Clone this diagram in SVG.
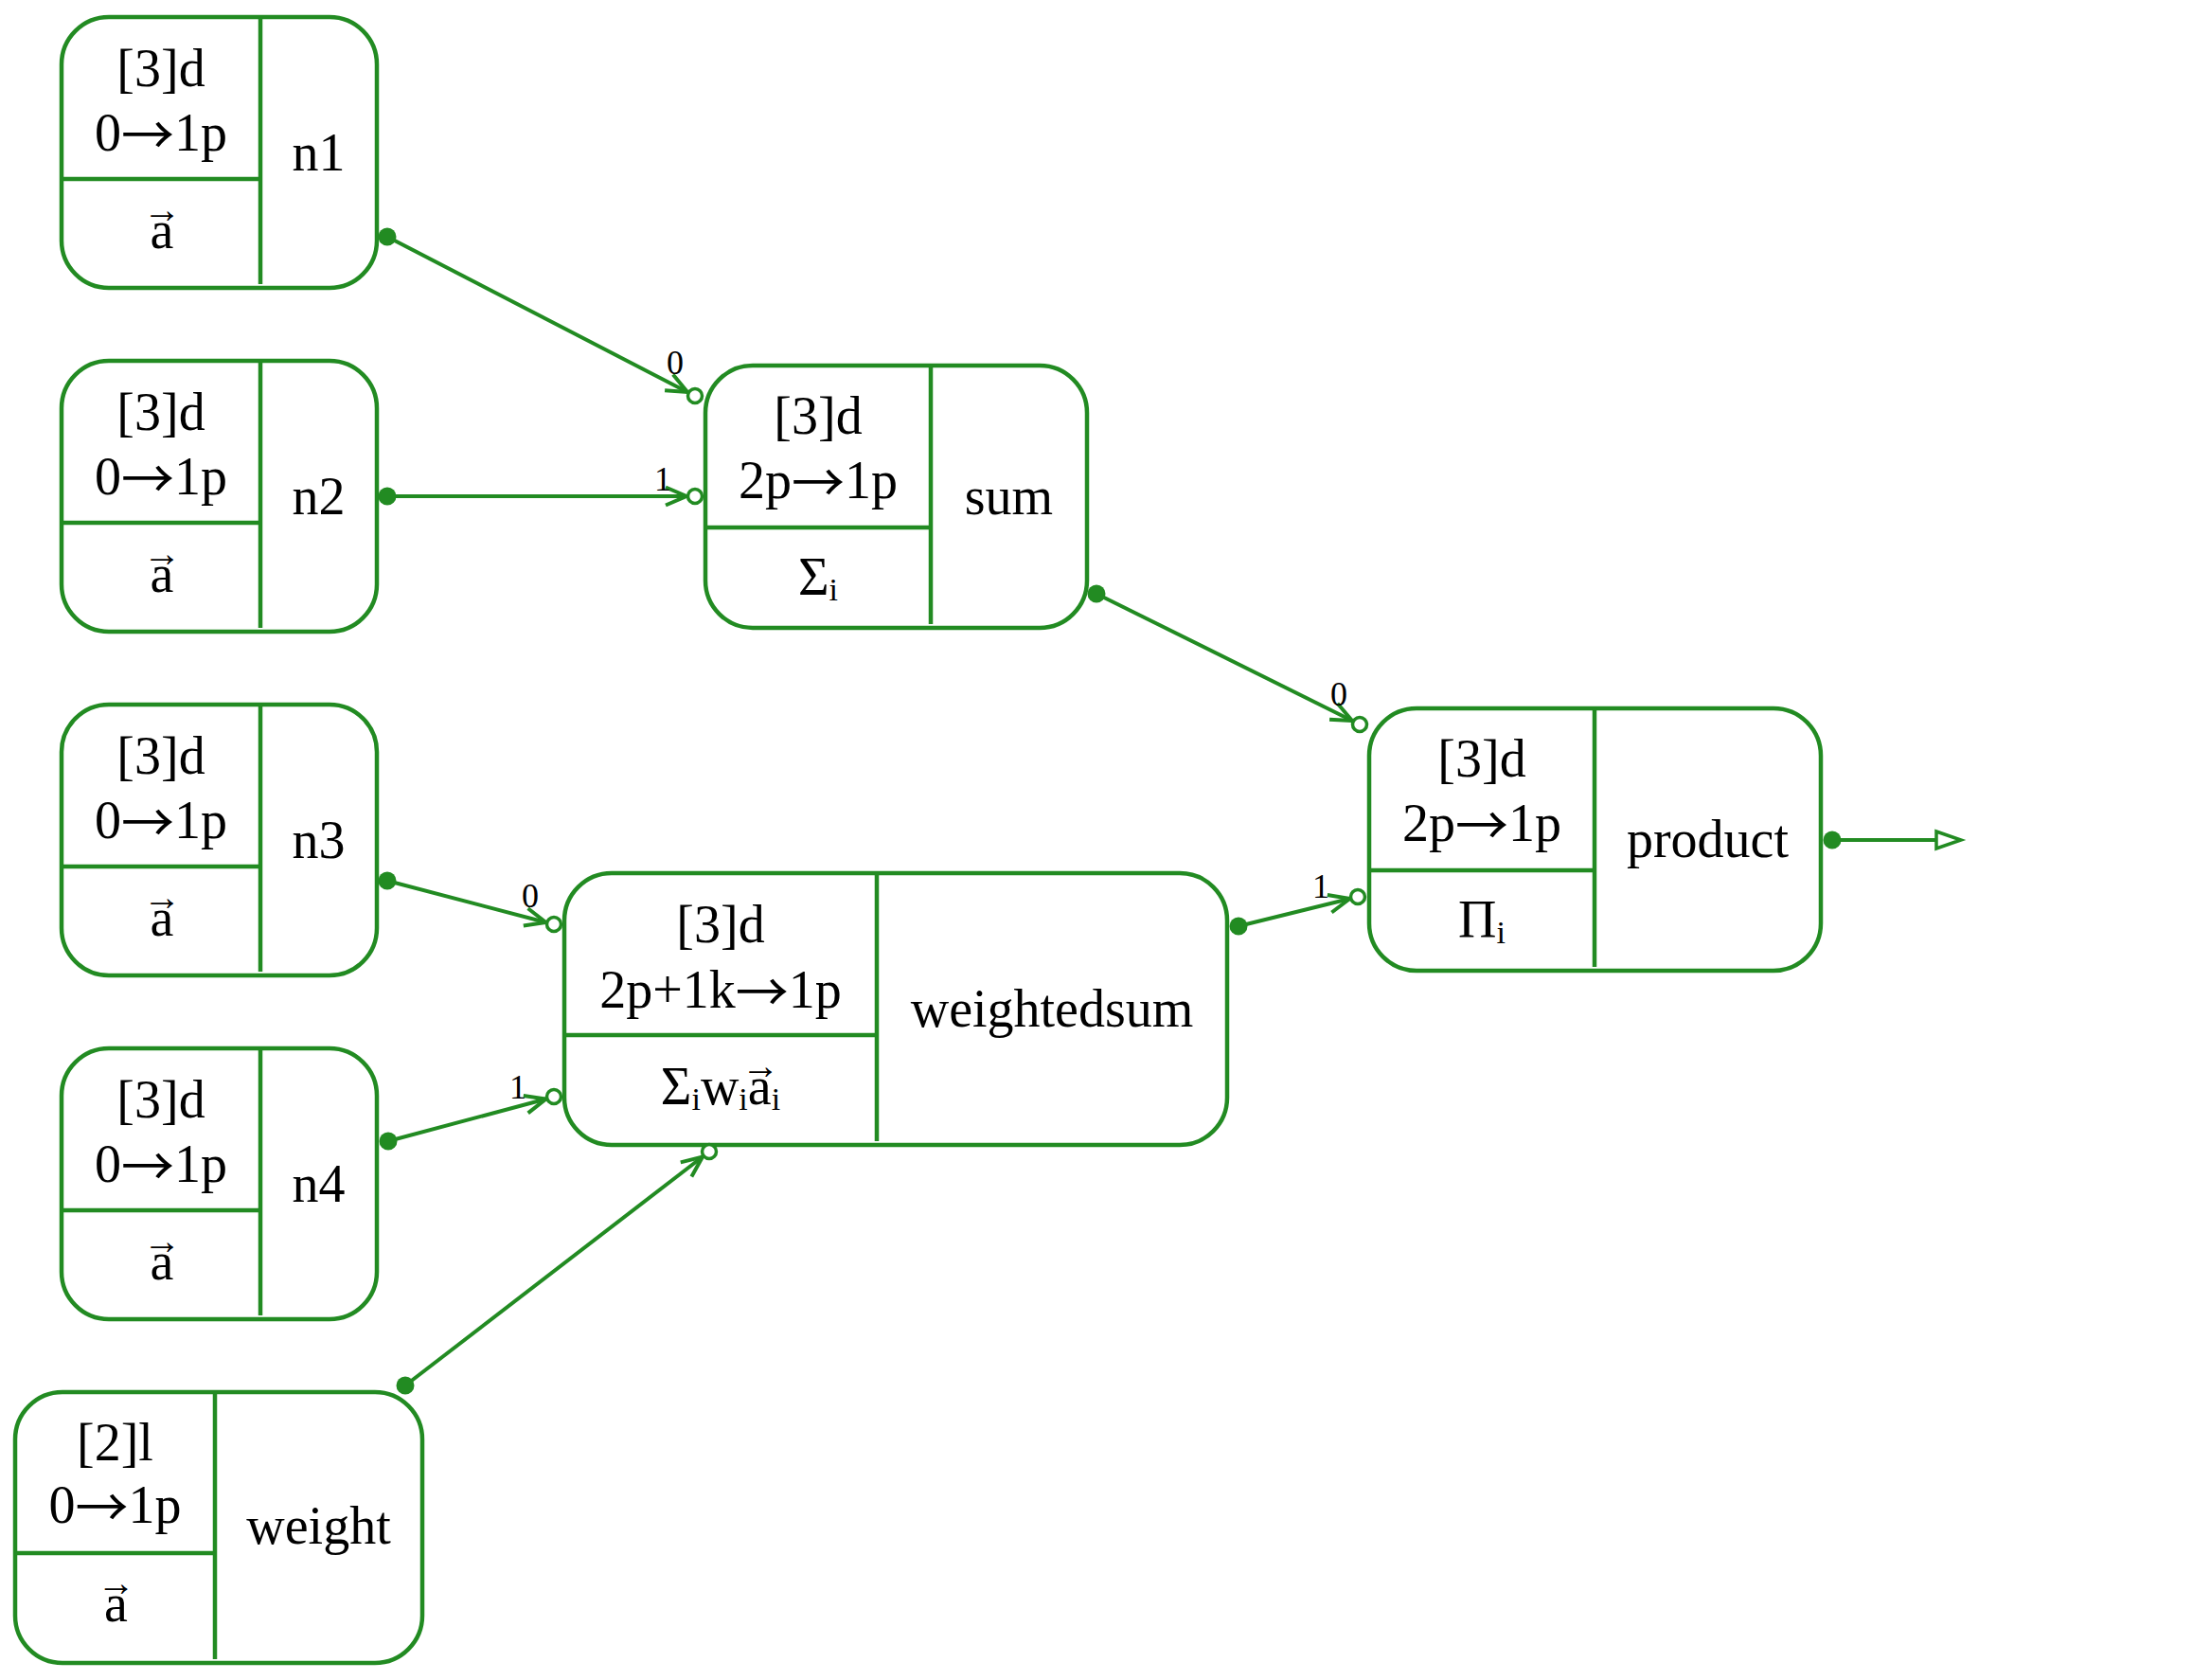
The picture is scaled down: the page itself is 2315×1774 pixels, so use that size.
<svg xmlns="http://www.w3.org/2000/svg" width="2315" height="1774" viewBox="0 0 2315 1774">
<style>
.box{fill:#ffffff;stroke:#228b22;stroke-width:4.5}
.div{stroke:#228b22;stroke-width:4.5;fill:none}
.t{font-family:"Liberation Serif","Times New Roman","DejaVu Serif",serif;font-size:56px;fill:#000;text-anchor:middle}
.ar{font-family:"Noto Sans CJK JP","DejaVu Sans",sans-serif}
.vec{font-family:"Liberation Serif","DejaVu Serif",serif;font-size:40px}
.sub{font-size:34px}
.lbl{font-family:"Liberation Serif","Times New Roman",serif;font-size:36px;fill:#000;text-anchor:middle}
.edge{stroke:#228b22;stroke-width:4;fill:none}
.dot{fill:#228b22;stroke:none}
.port{fill:#ffffff;stroke:#228b22;stroke-width:3.5}
</style>
<defs>
<marker id="vee" markerUnits="userSpaceOnUse" markerWidth="30" markerHeight="26" viewBox="-26 -13 30 26" refX="0" refY="0" orient="auto" overflow="visible">
<path d="M-22,-9.5 L0,0 L-22,9.5" fill="none" stroke="#228b22" stroke-width="4"/>
</marker>
<marker id="otri" markerUnits="userSpaceOnUse" markerWidth="30" markerHeight="26" viewBox="-28 -13 30 26" refX="0" refY="0" orient="auto" overflow="visible">
<path d="M-26,-9 L0,0 L-26,9 Z" fill="#ffffff" stroke="#228b22" stroke-width="3.5"/>
</marker>
</defs>
<rect width="2315" height="1774" fill="#ffffff"/>

<g id="n1">
<rect class="box" x="65" y="18" width="333" height="286" rx="50" ry="50"/>
<path class="div" d="M275,18 V300 M65,189 H275"/>
<text class="t" x="170" y="91">[3]d</text>
<text class="t" x="170" y="159">0<tspan class="ar" dy="4">→</tspan><tspan dy="-4">1p</tspan></text>
<text class="t" x="171" y="262">a<tspan class="vec" x="171" y="235">→</tspan></text>
<text class="t" x="336.5" y="180">n1</text>
</g>
<g id="n2">
<rect class="box" x="65" y="381" width="333" height="286" rx="50" ry="50"/>
<path class="div" d="M275,381 V663 M65,552 H275"/>
<text class="t" x="170" y="454">[3]d</text>
<text class="t" x="170" y="522">0<tspan class="ar" dy="4">→</tspan><tspan dy="-4">1p</tspan></text>
<text class="t" x="171" y="625">a<tspan class="vec" x="171" y="598">→</tspan></text>
<text class="t" x="336.5" y="543">n2</text>
</g>
<g id="n3">
<rect class="box" x="65" y="744" width="333" height="286" rx="50" ry="50"/>
<path class="div" d="M275,744 V1026 M65,915 H275"/>
<text class="t" x="170" y="817">[3]d</text>
<text class="t" x="170" y="885">0<tspan class="ar" dy="4">→</tspan><tspan dy="-4">1p</tspan></text>
<text class="t" x="171" y="988">a<tspan class="vec" x="171" y="961">→</tspan></text>
<text class="t" x="336.5" y="906">n3</text>
</g>
<g id="n4">
<rect class="box" x="65" y="1107" width="333" height="286" rx="50" ry="50"/>
<path class="div" d="M275,1107 V1389 M65,1278 H275"/>
<text class="t" x="170" y="1180">[3]d</text>
<text class="t" x="170" y="1248">0<tspan class="ar" dy="4">→</tspan><tspan dy="-4">1p</tspan></text>
<text class="t" x="171" y="1351">a<tspan class="vec" x="171" y="1324">→</tspan></text>
<text class="t" x="336.5" y="1269">n4</text>
</g>
<g id="weight">
<rect class="box" x="16" y="1470" width="430" height="286" rx="50" ry="50"/>
<path class="div" d="M227,1470 V1752 M16,1640 H227"/>
<text class="t" x="121.5" y="1542">[2]l</text>
<text class="t" x="121.5" y="1608">0<tspan class="ar" dy="4">→</tspan><tspan dy="-4">1p</tspan></text>
<text class="t" x="122.5" y="1712">a<tspan class="vec" x="122.5" y="1685">→</tspan></text>
<text class="t" x="336.5" y="1630">weight</text>
</g>
<g id="sum">
<rect class="box" x="745" y="386" width="403" height="277" rx="50" ry="50"/>
<path class="div" d="M983,386 V659 M745,557 H983"/>
<text class="t" x="864" y="458">[3]d</text>
<text class="t" x="864" y="526">2p<tspan class="ar" dy="4">→</tspan><tspan dy="-4">1p</tspan></text>
<text class="t" x="864" y="628">Σ<tspan class="sub" dy="6">i</tspan></text>
<text class="t" x="1065.5" y="543">sum</text>
</g>
<g id="weightedsum">
<rect class="box" x="596" y="922" width="700" height="287" rx="50" ry="50"/>
<path class="div" d="M926,922 V1205 M596,1093 H926"/>
<text class="t" x="761" y="995">[3]d</text>
<text class="t" x="761" y="1064">2p+1k<tspan class="ar" dy="4">→</tspan><tspan dy="-4">1p</tspan></text>
<text class="t" x="761" y="1166">Σ<tspan class="sub" dy="6">i</tspan><tspan dy="-6">w</tspan><tspan class="sub" dy="6">i</tspan><tspan dy="-6">a</tspan><tspan class="sub" dy="6">i</tspan><tspan class="vec" x="803" y="1139">→</tspan></text>
<text class="t" x="1111" y="1084">weightedsum</text>
</g>
<g id="product">
<rect class="box" x="1446" y="748" width="477" height="277" rx="50" ry="50"/>
<path class="div" d="M1684,748 V1021 M1446,919 H1684"/>
<text class="t" x="1565" y="820">[3]d</text>
<text class="t" x="1565" y="888">2p<tspan class="ar" dy="4">→</tspan><tspan dy="-4">1p</tspan></text>
<text class="t" x="1565" y="990">Π<tspan class="sub" dy="6">i</tspan></text>
<text class="t" x="1803.5" y="905">product</text>
</g>

<g id="connectors">
<line class="edge" x1="409" y1="250" x2="726" y2="414" marker-end="url(#vee)"/>
<line class="edge" x1="409" y1="524" x2="725" y2="524" marker-end="url(#vee)"/>
<line class="edge" x1="1158" y1="627" x2="1428" y2="761" marker-end="url(#vee)"/>
<line class="edge" x1="409" y1="930" x2="576.5" y2="974" marker-end="url(#vee)"/>
<line class="edge" x1="410" y1="1205" x2="576.5" y2="1160.5" marker-end="url(#vee)"/>
<line class="edge" x1="428" y1="1463" x2="742" y2="1221.5" marker-end="url(#vee)"/>
<line class="edge" x1="1308" y1="978" x2="1425.5" y2="949" marker-end="url(#vee)"/>
<line class="edge" x1="1935" y1="887" x2="2071" y2="887" marker-end="url(#otri)"/>
<circle class="dot" cx="409" cy="250" r="9.5"/>
<circle class="dot" cx="409" cy="524" r="9.5"/>
<circle class="dot" cx="1158" cy="627" r="9.5"/>
<circle class="dot" cx="409" cy="930" r="9.5"/>
<circle class="dot" cx="410" cy="1205" r="9.5"/>
<circle class="dot" cx="428" cy="1463" r="9.5"/>
<circle class="dot" cx="1308" cy="978" r="9.5"/>
<circle class="dot" cx="1935" cy="887" r="9.5"/>
<circle class="port" cx="734" cy="418" r="7.5"/>
<circle class="port" cx="734" cy="524" r="7.5"/>
<circle class="port" cx="1436" cy="765" r="7.5"/>
<circle class="port" cx="585" cy="976" r="7.5"/>
<circle class="port" cx="585" cy="1158" r="7.5"/>
<circle class="port" cx="749" cy="1216" r="7.5"/>
<circle class="port" cx="1434" cy="947" r="7.5"/>
<text class="lbl" x="713" y="395">0</text>
<text class="lbl" x="700" y="518">1</text>
<text class="lbl" x="1414" y="745">0</text>
<text class="lbl" x="1395" y="948">1</text>
<text class="lbl" x="560" y="958">0</text>
<text class="lbl" x="547" y="1160">1</text>
</g>
</svg>
